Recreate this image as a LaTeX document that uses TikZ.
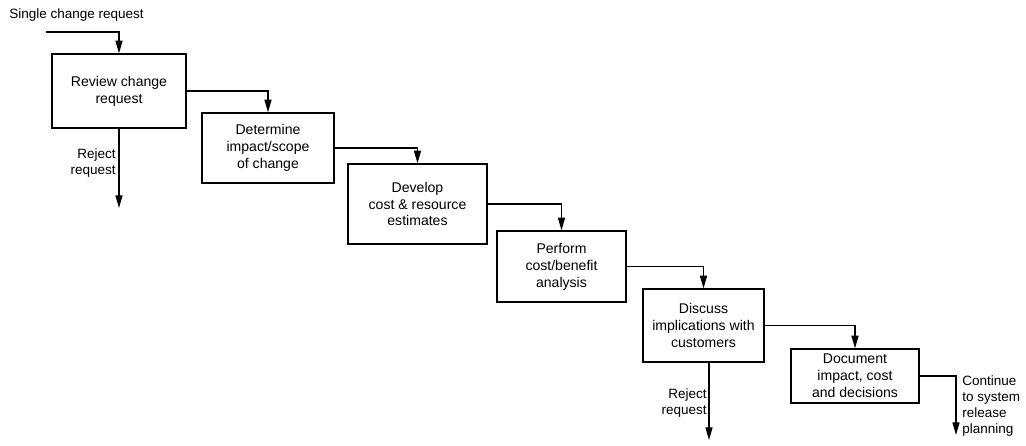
\documentclass[tikz,border=0pt]{standalone}
\usepackage{fontspec}
\setmainfont{Liberation Sans}
\usetikzlibrary{positioning, arrows.meta}
\tikzset{stage/.style={draw,line width=0.9pt,align=center,inner sep=2pt,font=\fontsize{10}{12}\selectfont},
         note/.style={inner sep=0pt,font=\fontsize{9.6}{11.5}\selectfont},
         flow/.style={line width=0.9pt,-{Triangle[length=9pt,width=5pt]}},
        }

\begin{document}
\begin{tikzpicture}[x=0.025cm,y=-0.025cm]
        \useasboundingbox (0,0) rectangle (1026,446);
        \node[stage,minimum width=3.35cm,minimum height=1.85cm](rev)at(119,91){Review change\\request};
        \node[stage,minimum width=3.3cm,minimum height=1.75cm](det)at(268,148){Determine\\impact/scope\\of change};
        \node[stage,minimum width=3.475cm,minimum height=2cm](dev)at(417.5,204){Develop\\cost \& resource\\estimates};
        \node[stage,minimum width=3.225cm,minimum height=1.775cm](cba)at(561.5,266.5){Perform\\cost/benefit\\analysis};
        \node[stage,minimum width=3.025cm,minimum height=1.825cm](dis)at(703.5,325.5){Discuss\\implications with\\customers};
        \node[stage,minimum width=3.2cm,minimum height=1.35cm](doc)at(855,376){Document\\impact, cost\\and decisions};

        \node[note,anchor=west](in)at(9,15){Single change request};
        \node[note,anchor=east,align=right](rj1)at(116,163){Reject\\request};
        \node[note,anchor=east,align=right](rj2)at(707,403){Reject\\request};
        \node[note,anchor=north west,align=left](cont)at(962,375){Continue\\to system\\release\\planning};

        \coordinate(src)at(46,32);
        \coordinate(out1)at(119,208);
        \coordinate(out2)at(709,440);
        \coordinate(out3)at(956,435);

        \draw[flow](src)-|(rev.north);
        \draw[flow](rev.east)-|(det.north);
        \draw[flow](det.east)-|(dev.north);
        \draw[flow](dev.east)-|(cba.north);
        \draw[flow](cba.east)-|(dis.north);
        \draw[flow](dis.east)-|(doc.north);
        \draw[flow](rev.south)--(out1);
        \draw[flow](dis.south-|out2)--(out2);
        \draw[flow](doc.east)-|(out3);
\end{tikzpicture}
\end{document}
